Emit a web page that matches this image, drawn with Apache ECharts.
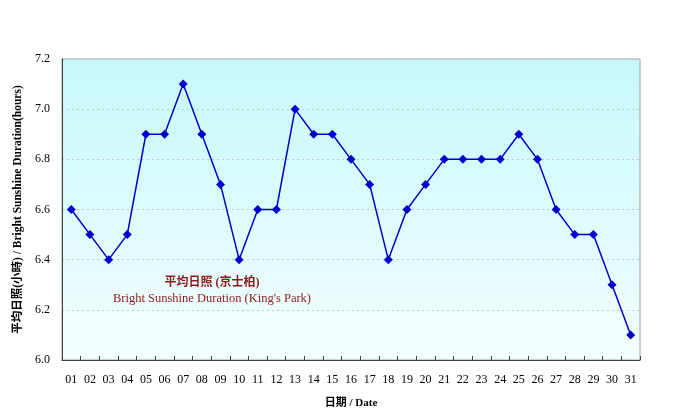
<!DOCTYPE html>
<html>
<head>
<meta charset="utf-8">
<script src="https://cdn.jsdelivr.net/npm/echarts@6/dist/echarts.min.js"></script>
<style>
html, body { margin: 0; padding: 0; background: #fff; }
#chart { width: 684px; height: 420px; }
</style>
</head>
<body>
<div id="chart"></div>
<script>
var days = ['01','02','03','04','05','06','07','08','09','10','11','12','13','14','15','16',
    '17','18','19','20','21','22','23','24','25','26','27','28','29','30','31'];
var sunshine = [6.6, 6.5, 6.4, 6.5, 6.9, 6.9, 7.1, 6.9, 6.7, 6.4, 6.6, 6.6, 7.0, 6.9, 6.9, 6.8,
    6.7, 6.4, 6.6, 6.7, 6.8, 6.8, 6.8, 6.8, 6.9, 6.8, 6.6, 6.5, 6.5, 6.3, 6.1];

var seriesName = '平均日照 (京士柏)';
var seriesNameEn = "Bright Sunshine Duration (King's Park)";
var yTitle = '平均日照(小時) / Bright Sunshine Duration(hours)';
var xTitle = '日期 / Date';

var font = "'Liberation Serif', 'Noto Sans CJK TC', serif";

var myChart = echarts.init(document.getElementById('chart'));

var option = {
    animation: false,
    backgroundColor: '#ffffff',
    title: {
        text: seriesName,
        subtext: seriesNameEn,
        left: 207,
        top: 272,
        textAlign: 'center',
        itemGap: 3,
        textStyle: { color: '#8b1a1a', fontSize: 12, fontWeight: 'bold', fontFamily: font },
        subtextStyle: { color: '#8b1a1a', fontSize: 12.5, fontFamily: font }
    },
    grid: {
        left: 62,
        right: 44,
        top: 59,
        bottom: 60,
        show: true,
        borderColor: '#a0a0a0',
        borderWidth: 1,
        backgroundColor: new echarts.graphic.LinearGradient(0, 0, 0, 1, [
            { offset: 0, color: '#c6f8fb' },
            { offset: 1, color: '#f4fefe' }
        ])
    },
    xAxis: {
        type: 'category',
        data: days,
        boundaryGap: true,
        name: xTitle,
        nameLocation: 'middle',
        nameGap: 38,
        nameTextStyle: { color: '#000', fontSize: 11, fontWeight: 'bold', fontFamily: font },
        axisLine: { lineStyle: { color: '#404040', width: 1 } },
        axisTick: { show: true, length: 4, inside: true, lineStyle: { color: '#404040' } },
        axisLabel: { color: '#000', fontSize: 12, margin: 14, fontFamily: font, interval: 0 },
        splitLine: { show: false }
    },
    yAxis: {
        type: 'value',
        min: 6.0,
        max: 7.2,
        interval: 0.2,
        name: yTitle,
        nameLocation: 'middle',
        nameGap: 38,
        nameTextStyle: { color: '#000', fontSize: 11.5, fontWeight: 'bold', fontFamily: font },
        axisLine: { show: true, lineStyle: { color: '#404040', width: 1 } },
        axisTick: { show: false },
        axisLabel: {
            color: '#000', fontSize: 12, margin: 12, fontFamily: font,
            formatter: function (v) { return v.toFixed(1); }
        },
        splitLine: { show: true, lineStyle: { color: '#c0cacc', type: [2, 3], width: 1 } }
    },
    series: [{
        name: seriesName,
        type: 'line',
        data: sunshine,
        symbol: 'diamond',
        symbolSize: 9,
        itemStyle: { color: '#0000cc' },
        lineStyle: { color: '#0000cc', width: 1.5 },
        smooth: false
    }]
};

myChart.setOption(option);
</script>
</body>
</html>
